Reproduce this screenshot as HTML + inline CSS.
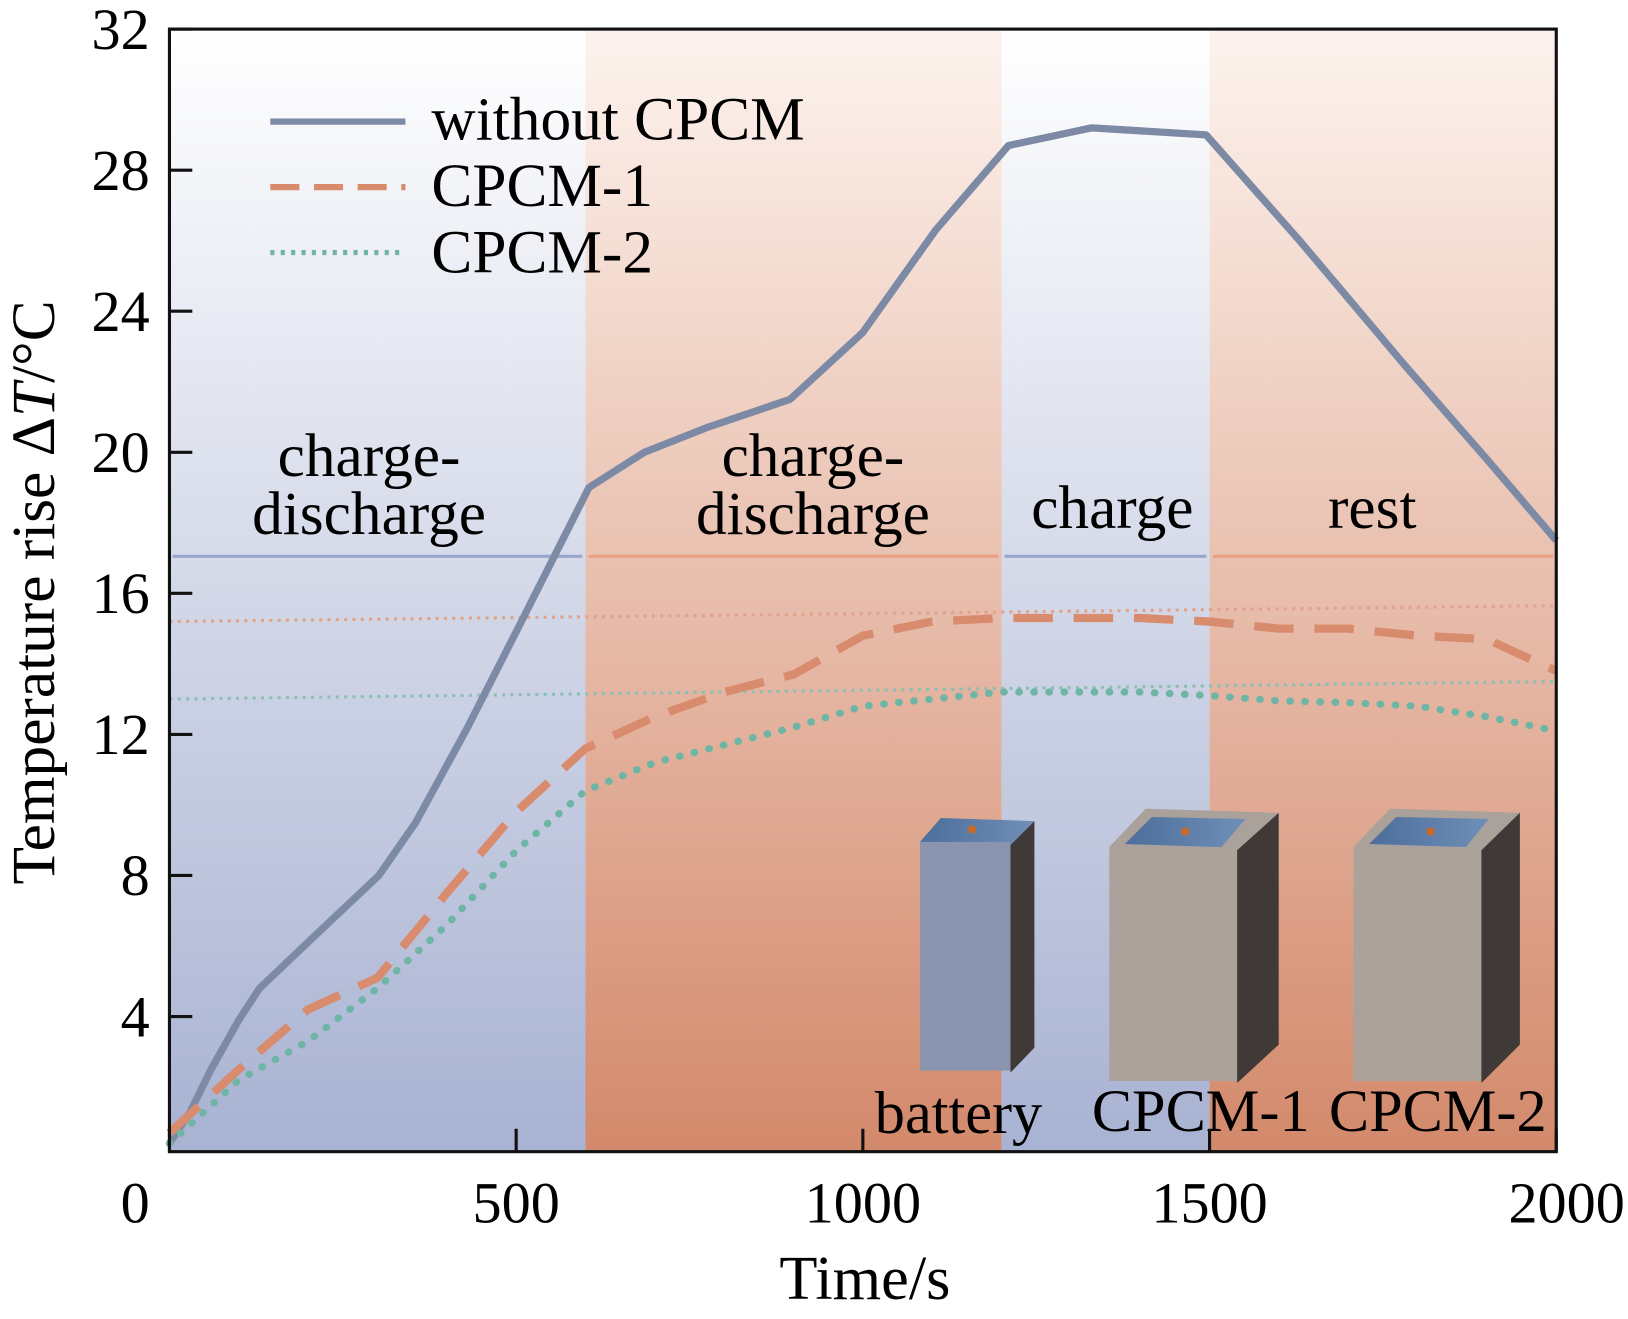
<!DOCTYPE html>
<html><head><meta charset="utf-8"><style>
body{margin:0;background:#fff}
svg{display:block;font-family:"Liberation Serif",serif}
</style></head><body>
<svg width="1628" height="1319" viewBox="0 0 1566 1269" preserveAspectRatio="none">
<defs>
<linearGradient id="gb" x1="0" y1="0" x2="0" y2="1"><stop offset="0" stop-color="#ffffff"/><stop offset="1" stop-color="#a8b2d2"/></linearGradient>
<linearGradient id="go" x1="0" y1="0" x2="0" y2="1"><stop offset="0" stop-color="#fdf3ee"/><stop offset="1" stop-color="#d3896b"/></linearGradient>
<linearGradient id="top" x1="0" y1="0" x2="1" y2="0"><stop offset="0" stop-color="#4d6e9a"/><stop offset="1" stop-color="#6f8fb8"/></linearGradient>
</defs>
<g id="bg"></g>
<g id="refs"></g>
<g id="cells">
 <g>
  <polygon points="885,810 905,787 995,790 972,813" fill="url(#top)"/>
  <rect x="885" y="810" width="87" height="220" fill="#8a94ae"/>
  <polygon points="972,813 995,790 995,1008 972,1032" fill="#3f3a37"/>
  <circle cx="935" cy="798" r="4" fill="#c86a2a"/>
 </g>
 <g>
  <polygon points="1067,815 1102,778 1230,782 1190,818" fill="#aaa19b"/>
  <polygon points="1082,812 1108,786 1198,788 1175,815" fill="url(#top)"/>
  <rect x="1067" y="815" width="123" height="225" fill="#aba29c"/>
  <polygon points="1190,818 1230,782 1230,1005 1190,1042" fill="#3f3a37"/>
  <circle cx="1140" cy="800" r="4" fill="#c86a2a"/>
 </g>
 <g>
  <polygon points="1302,815 1337,778 1462,782 1425,818" fill="#aaa19b"/>
  <polygon points="1317,812 1343,786 1432,788 1410,815" fill="url(#top)"/>
  <rect x="1302" y="815" width="123" height="225" fill="#aba29c"/>
  <polygon points="1425,818 1462,782 1462,1005 1425,1042" fill="#3f3a37"/>
  <circle cx="1376" cy="800" r="4" fill="#c86a2a"/>
 </g>
 <text x="922" y="1090" font-size="58" text-anchor="middle">battery</text>
 <text x="1155" y="1088" font-size="58" text-anchor="middle">CPCM-1</text>
 <text x="1383" y="1088" font-size="58" text-anchor="middle">CPCM-2</text>
</g>
<g id="series"></g>
<g font-size="59" text-anchor="middle">
 <text x="355" y="458"><tspan x="355">charge-</tspan><tspan x="355" dy="56">discharge</tspan></text>
 <text x="782" y="458"><tspan x="782">charge-</tspan><tspan x="782" dy="56">discharge</tspan></text>
 <text x="1070" y="508">charge</text>
 <text x="1320" y="508">rest</text>
</g>
<g font-size="59">
 <line x1="260" y1="117" x2="390" y2="117" stroke="#7c8aa6" stroke-width="6"/>
 <text x="415" y="134">without CPCM</text>
 <line x1="260" y1="180" x2="390" y2="180" stroke="#d98b6e" stroke-width="6" stroke-dasharray="28,14"/>
 <text x="415" y="198">CPCM-1</text>
 <line x1="260" y1="243" x2="390" y2="243" stroke="#6fb5a5" stroke-width="5" stroke-dasharray="4,6"/>
 <text x="415" y="262">CPCM-2</text>
</g>
<g id="axes"></g>
</svg>
<script>
const timeValues=[0,30,60,100,130,205,302,355,430,505,605,685,775,895,1000,1105,1210,1330,1495,1630,1780,1900,2000];
const withoutValues=[0.4,1.3,2.5,3.9,4.8,6.2,8.0,9.5,12.2,15.1,19.0,20.0,20.7,21.5,23.4,26.3,28.7,29.2,29.0,26.0,22.5,19.8,17.5];
const cpcmTime=[0,100,200,300,400,500,600,700,800,900,1000,1100,1200,1300,1400,1500,1600,1700,1800,1900,2000];
const cpcm1Values=[0.7,2.5,4.2,5.1,7.5,9.8,11.6,12.5,13.2,13.7,14.8,15.2,15.3,15.3,15.3,15.2,15.0,15.0,14.8,14.7,13.8];
const cpcm2Values=[0.4,2.2,3.3,4.8,6.6,8.7,10.4,11.2,11.7,12.2,12.8,13.0,13.2,13.2,13.2,13.1,12.95,12.9,12.8,12.5,12.1];
const phaseBounds=[0,600,1200,1500,2000];
const phaseKinds=["blue","orange","blue","orange"];
const refCpcm1=[15.2,15.65];
const refCpcm2=[13.0,13.5];
const arrowLevel=17.05;
const xTicks=[0,500,1000,1500,2000];
const yTicks=[4,8,12,16,20,24,28,32];
const NS="http://www.w3.org/2000/svg";
const X0=163,X1=1497,YT=28,YB=1108;
const xs=t=>X0+(X1-X0)*t/2000;
const ys=v=>1113.7-(1113.7-YT)*v/32;
function mk(tag,attrs,parent){const e=document.createElementNS(NS,tag);for(const k in attrs)e.setAttribute(k,attrs[k]);parent.appendChild(e);return e;}
const bg=document.getElementById('bg');
for(let i=0;i<phaseKinds.length;i++){
 const r=mk('rect',{x:xs(phaseBounds[i]),y:YT,width:xs(phaseBounds[i+1])-xs(phaseBounds[i]),height:YB-YT,fill:phaseKinds[i]=='blue'?'url(#gb)':'url(#go)'},bg);
 
 
 const a=mk('line',{x1:xs(phaseBounds[i])+3,x2:xs(phaseBounds[i+1])-3,y1:ys(arrowLevel),y2:ys(arrowLevel),stroke:phaseKinds[i]=='blue'?'#9aa4cc':'#eba282','stroke-width':3},bg);
 
 
}
const refs=document.getElementById('refs');
const r1=mk('line',{x1:X0,x2:X1,y1:ys(refCpcm1[0]),y2:ys(refCpcm1[1]),stroke:'#e0a48c','stroke-width':3,'stroke-dasharray':'3,5'},refs);


const r2=mk('line',{x1:X0,x2:X1,y1:ys(refCpcm2[0]),y2:ys(refCpcm2[1]),stroke:'#8cc0b4','stroke-width':3,'stroke-dasharray':'3,5'},refs);


const ser=document.getElementById('series');
function pathOf(t,v){return t.map((tt,i)=>(i?'L':'M')+xs(tt).toFixed(1)+','+ys(v[i]).toFixed(1)).join('');}
const p0=mk('path',{d:pathOf(timeValues,withoutValues),fill:'none',stroke:'#7c8aa6','stroke-width':7,'stroke-linejoin':'round'},ser);


const p1=mk('path',{d:pathOf(cpcmTime,cpcm1Values),fill:'none',stroke:'#d98b6e','stroke-width':8,'stroke-dasharray':'38,20'},ser);


const p2=mk('path',{d:pathOf(cpcmTime,cpcm2Values),fill:'none',stroke:'#6fb5a5','stroke-width':7,'stroke-linecap':'round','stroke-dasharray':'0.5,14'},ser);


const ax=document.getElementById('axes');
const fr=mk('rect',{x:X0,y:YT,width:X1-X0,height:YB-YT,fill:'none',stroke:'#111','stroke-width':3},ax);


xTicks.forEach(t=>{
 const l=mk('line',{x1:xs(t),x2:xs(t),y1:YB,y2:YB-22,stroke:'#111','stroke-width':3},ax);
 
 
 const tx=mk('text',{x:xs(t),y:1176,'font-size':56,'text-anchor':'middle'},ax);
 tx.textContent=t;
 if(t==0)tx.setAttribute('x',130);
 if(t==2000)tx.setAttribute('x',1507);
 
 
});
yTicks.forEach(v=>{
 const l=mk('line',{x1:X0,x2:X0+22,y1:ys(v),y2:ys(v),stroke:'#111','stroke-width':3},ax);
 
 
 const tx=mk('text',{x:144,y:ys(v)+19,'font-size':56,'text-anchor':'end'},ax);
 tx.textContent=v;
 
 
});
const xt=mk('text',{x:832,y:1250,'font-size':60,'text-anchor':'middle'},ax);
xt.textContent='Time/s';


const yt=mk('text',{x:0,y:0,'font-size':59,'text-anchor':'middle',transform:'translate(52,570) rotate(-90)'},ax);
yt.innerHTML='Temperature rise Δ<tspan font-style="italic">T</tspan>/°C';


</script>
</body></html>
